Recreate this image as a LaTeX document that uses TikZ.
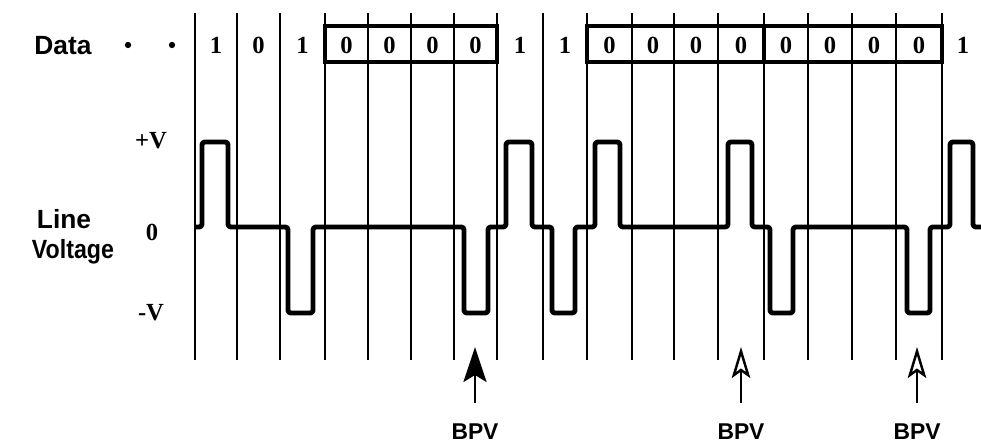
\documentclass[tikz,border=0pt]{standalone}
\usepackage{fontspec}
\setmainfont{Liberation Serif}
\setsansfont{Liberation Sans}
\usetikzlibrary{arrows.meta}
\begin{document}
\begin{tikzpicture}[x=0.02cm,y=-0.02cm,
  grid/.style={line width=1.1pt},
  wave/.style={line width=2.8pt, rounded corners=1.6pt, line join=round},
  digit/.style={font=\fontsize{14}{16}\selectfont\bfseries, inner sep=0pt},
  lab/.style={font=\fontsize{13}{15}\selectfont\sffamily\bfseries, inner sep=0pt},
  biglab/.style={font=\fontsize{15}{17}\selectfont\sffamily\bfseries, inner sep=0pt},
  frame/.style={line width=2.8pt},
  bpvfilled/.style={line width=1.4pt, -{Stealth[length=0.7cm,width=0.46cm,inset=0.14cm]}},
  bpvopen/.style={line width=1.4pt, -{Stealth[open,length=0.62cm,width=0.37cm,inset=0.13cm,line width=1.4pt]}},
]
\useasboundingbox (0,0) rectangle (981,442);

% bit boundary lines
\foreach \x in {195,237,280,325,368,411,454,497,543,587,632,674,718,764,808,852,896,942}
  \draw[grid] (\x,13) -- (\x,360);

% framed groups of zeros
\draw[frame] (325,26) rectangle (497,62);
\draw[frame] (587,26) rectangle (764,62);
\draw[frame] (764,26) rectangle (942,62);

% data bits
\foreach \x/\d [count=\i] in {216/1,258.5/0,302.5/1,346.5/0,389.5/0,432.5/0,475.5/0,520/1,565/1,609.5/0,653/0,696/0,741/0,786/0,830/0,874/0,919/0,963/1}
  \node[digit] (bit\i) at (\x,45) {\d};

% left labels
\node[biglab] (data) at (63,46) {Data};
\fill (128,45) circle (1.8pt);
\fill (172,45) circle (1.8pt);
\node[biglab] (line) at (64,219) {Line};
\node[biglab] (volt) at (73,252) {\scalebox{0.88}[1]{Voltage}};
\node[digit] (pv) at (151,141) {+V};
\node[digit] (zv) at (152,232) {0};
\node[digit] (mv) at (151,313) {-V};

% line voltage waveform
\draw[wave] (195,227) -- (202,227) -- (202,142) -- (228,142) -- (228,227)
  -- (288,227) -- (288,313) -- (313,313) -- (313,227)
  -- (464,227) -- (464,313) -- (488,313) -- (488,227)
  -- (506,227) -- (506,142) -- (532,142) -- (532,227)
  -- (552,227) -- (552,313) -- (575,313) -- (575,227)
  -- (595,227) -- (595,142) -- (620,142) -- (620,227)
  -- (728,227) -- (728,142) -- (752,142) -- (752,227)
  -- (770,227) -- (770,313) -- (793,313) -- (793,227)
  -- (907,227) -- (907,313) -- (930,313) -- (930,227)
  -- (950,227) -- (950,142) -- (973,142) -- (973,227) -- (981,227);

% BPV markers
\node[lab] (bpv1) at (475,432) {BPV};
\node[lab] (bpv2) at (741,432) {BPV};
\node[lab] (bpv3) at (917,432) {BPV};
\coordinate (tip) at (0,347);
\draw[bpvfilled] ([yshift=0.42cm]bpv1.north) -- (bpv1.north |- tip);
\draw[bpvopen] ([yshift=0.42cm]bpv2.north) -- (bpv2.north |- tip);
\draw[bpvopen] ([yshift=0.42cm]bpv3.north) -- (bpv3.north |- tip);
\end{tikzpicture}
\end{document}
